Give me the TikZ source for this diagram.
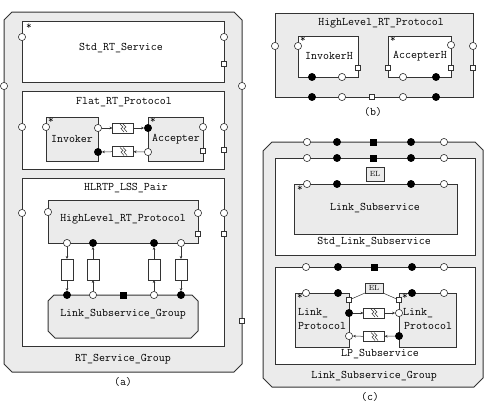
\documentclass[tikz,border=0pt]{standalone}
\usetikzlibrary{arrows.meta}
\definecolor{gfill}{HTML}{EBEBEB}
\definecolor{lc}{HTML}{333333}
\newcommand\ttl{\fontsize{11.6}{12.5}\selectfont\ttfamily}
\newcommand\ttstar{\fontsize{11}{11}\selectfont\ttfamily}
\newcommand\elfont{\fontsize{7.5}{8}\selectfont}
\begin{document}
\begin{tikzpicture}[x=1pt,y=-1pt,
  box/.style={draw=lc, line width=1pt, rectangle, inner sep=0pt, outer sep=0pt},
  wbox/.style={box, fill=white},
  gbox/.style={box, fill=gfill},
  octo/.style={draw=lc, line width=1pt, fill=gfill},
  po/.style={circle, draw=lc, fill=white, line width=0.6pt, minimum size=7.2pt, inner sep=0pt},
  pf/.style={circle, draw=black, fill=black, line width=0.6pt, minimum size=7.2pt, inner sep=0pt},
  ps/.style={rectangle, draw=lc, fill=white, line width=0.6pt, minimum size=5pt, inner sep=0pt},
  psf/.style={rectangle, draw=black, fill=black, minimum size=5.4pt, inner sep=0pt},
  lbl/.style={font=\ttl, inner sep=0pt},
  st/.style={font=\ttstar, inner sep=0pt},
  chan/.style={wbox, line width=0.6pt, minimum width=21pt, minimum height=10pt},
  vchan/.style={wbox, line width=0.6pt, minimum width=12pt, minimum height=21pt},
  arr/.style={-{Stealth[length=3pt,width=2.6pt]}, line width=0.5pt, draw=lc},
  zz/.style={line width=0.5pt, draw=lc},
  ell/.style={font=\elfont, inner sep=0pt}
]
\useasboundingbox (0,0) rectangle (486,405);
\newcommand\zig[1]{%
  \draw[zz] ([shift={(-3,-4)}]#1.center) -- ++(3,3) -- ++(-2,1.5) -- ++(3,3.5);
  \draw[zz] ([shift={(0,-4)}]#1.center) -- ++(3,3) -- ++(-2,1.5) -- ++(3,3.5);}

% ================= (a) =================
\draw[octo] (4,20) -- (12,12) -- (234,12) -- (242,20) -- (242,364) -- (234,372) -- (12,372) -- (4,364) -- cycle;
\node[po] (aol) at (4,86) {};
\node[po] (aor) at (242,86) {};
\node[ps] (aos) at (242,321) {};

% Std_RT_Service
\node[wbox, minimum width=202pt, minimum height=61pt] (stdrt) at (123,51.5) {};
\node[lbl] (stdrtl) at (121,48) {Std\_RT\_Service};
\node[st] (s1) at (29,27) {*};
\node[po] (stdl) at (22,37) {};
\node[po] (stdr) at (224,37) {};
\node[ps] (stds) at (224,64) {};

% Flat_RT_Protocol
\node[wbox, minimum width=202pt, minimum height=78pt] (flat) at (123,130) {};
\node[lbl] (flatl) at (124,102) {Flat\_RT\_Protocol};
\node[po] (flpl) at (22,127) {};
\node[po] (flpr) at (224,127) {};
\node[ps] (flps) at (224,150) {};

\node[gbox, minimum width=52pt, minimum height=44pt] (inv) at (72,139) {};
\node[lbl] (invl) at (72,139) {Invoker};
\node[st] (s2) at (51,121) {*};
\node[po] (invpl) at (46,127) {};
\node[po] (invpo) at (98,128) {};
\node[pf] (invpf) at (98,152) {};

\node[gbox, minimum width=55pt, minimum height=44pt] (acc) at (175.5,139) {};
\node[lbl] (accl) at (176,139) {Accepter};
\node[st] (s3) at (153,121) {*};
\node[pf] (accpf) at (148,128) {};
\node[po] (accpo) at (148,152) {};
\node[po] (accpr) at (203,127) {};
\node[ps] (accps) at (203,151) {};

\node[chan] (ch1) at (123,128) {};
\node[chan] (ch2) at (123,151.5) {};
\zig{ch1}\zig{ch2}
\draw[arr] (invpo) -- (ch1);
\draw[arr] (ch1) -- (accpf);
\draw[arr] (accpo) -- (ch2);
\draw[arr] (ch2) -- (invpf);

% HLRTP_LSS_Pair
\node[wbox, minimum width=202pt, minimum height=168pt] (pair) at (123,262) {};
\node[lbl] (pairl) at (126,188) {HLRTP\_LSS\_Pair};
\node[po] (pairpl) at (22,213) {};
\node[po] (pairpr) at (224,213) {};
\node[ps] (pairps) at (224,234) {};

\node[gbox, minimum width=150pt, minimum height=43pt] (hl) at (123,221.5) {};
\node[lbl] (hll) at (123,219) {HighLevel\_RT\_Protocol};
\node[po] (hlpl) at (48,212) {};
\node[po] (hlpr) at (198,213) {};
\node[ps] (hlps) at (198,234) {};
\node[po] (hb1) at (67,243) {};
\node[pf] (hb2) at (93,243) {};
\node[pf] (hb3) at (154,243) {};
\node[po] (hb4) at (181,243) {};

\draw[octo] (48,301) -- (54,295) -- (192,295) -- (198,301) -- (198,331) -- (191,338) -- (55,338) -- (48,331) -- cycle;
\node[lbl] (lsgl) at (123,314) {Link\_Subservice\_Group};
\node[pf] (lt1) at (67,295) {};
\node[po] (lt2) at (93,295) {};
\node[psf] (lt3) at (123,295) {};
\node[po] (lt4) at (154,295) {};
\node[pf] (lt5) at (181,295) {};

\node[vchan] (v1) at (67,269.5) {};
\node[vchan] (v2) at (93,269.5) {};
\node[vchan] (v3) at (154,269.5) {};
\node[vchan] (v4) at (181,269.5) {};
\draw[arr] (hb1) -- (v1);
\draw[arr] (v1) -- (lt1);
\draw[arr] (lt2) -- (v2);
\draw[arr] (v2) -- (hb2);
\draw[arr] (lt4) -- (v3);
\draw[arr] (v3) -- (hb3);
\draw[arr] (hb4) -- (v4);
\draw[arr] (v4) -- (lt5);

\node[lbl] (rtsgl) at (123,359) {RT\_Service\_Group};
\node[lbl] (capa) at (123,382) {(a)};

% ================= (b) =================
\node[gbox, minimum width=198pt, minimum height=84pt] (hlb) at (374,55) {};
\node[lbl] (hlbl) at (381,23) {HighLevel\_RT\_Protocol};
\node[po] (hlbpl) at (275,46) {};
\node[po] (hlbpr) at (473,46) {};
\node[ps] (hlbps) at (473,68) {};
\node[pf] (hbb1) at (312,97) {};
\node[po] (hbb2) at (342,97) {};
\node[ps] (hbb3) at (372,97) {};
\node[po] (hbb4) at (403,97) {};
\node[pf] (hbb5) at (436,97) {};

\node[wbox, minimum width=60pt, minimum height=41pt] (invh) at (328,56.5) {};
\node[lbl] (invhl) at (329,56) {InvokerH};
\node[st] (s4) at (303,40) {*};
\node[po] (invhpl) at (298,46) {};
\node[ps] (invhps) at (358,68) {};
\node[pf] (invhb1) at (312,77) {};
\node[po] (invhb2) at (342,77) {};

\node[wbox, minimum width=63pt, minimum height=41pt] (acch) at (419.5,56.5) {};
\node[lbl] (acchl) at (420,56) {AccepterH};
\node[st] (s5) at (393,40) {*};
\node[po] (acchpr) at (451,45) {};
\node[ps] (acchps) at (451,68) {};
\node[ps] (acchpl) at (388,68) {};
\node[po] (acchb1) at (403,77) {};
\node[pf] (acchb2) at (436,77) {};

\node[lbl] (capb) at (373,112) {(b)};

% ================= (c) =================
\draw[octo] (263,151) -- (272,142) -- (475,142) -- (483,150) -- (483,378) -- (474,387) -- (272,387) -- (263,378) -- cycle;
\node[po] (ct1) at (307,142) {};
\node[pf] (ct2) at (337,142) {};
\node[psf] (ct3) at (373,142) {};
\node[pf] (ct4) at (411,142) {};
\node[po] (ct5) at (444,142) {};

\node[wbox, minimum width=200pt, minimum height=97pt] (sls) at (375,206.5) {};
\node[lbl] (slsl) at (374,242) {Std\_Link\_Subservice};
\node[po] (st1) at (307,158) {};
\node[pf] (st2) at (337,158) {};
\node[psf] (st3) at (373,158) {};
\node[pf] (st4) at (411,158) {};
\node[po] (st5) at (444,158) {};

\node[gbox, minimum width=18pt, minimum height=14pt] (el1) at (375,174) {};
\node[ell] (el1l) at (375,174) {EL};

\node[gbox, minimum width=163pt, minimum height=50pt] (ls) at (375.5,209) {};
\node[lbl] (lsl) at (375,208) {Link\_Subservice};
\node[st] (s6) at (300,189) {*};
\node[po] (ls1) at (307,184) {};
\node[pf] (ls2) at (337,184) {};
\node[pf] (ls3) at (411,184) {};
\node[po] (ls4) at (444,184) {};

\node[wbox, minimum width=200pt, minimum height=97pt] (lps) at (375,315.5) {};
\node[lbl] (lpsl) at (380,354) {LP\_Subservice};
\node[po] (lt1c) at (306,267) {};
\node[pf] (lt2c) at (338,267) {};
\node[psf] (lt3c) at (374,267) {};
\node[pf] (lt4c) at (412,267) {};
\node[po] (lt5c) at (444,267) {};

\node[gbox, minimum width=54pt, minimum height=54pt] (lpl) at (322,320) {};
\node[lbl, anchor=west] (lpll1) at (298,313) {Link\_};
\node[lbl, anchor=west] (lpll2) at (298,325.5) {Protocol};
\node[st] (s7) at (300,297) {*};
\node[po] (lplt1) at (306,293) {};
\node[pf] (lplt2) at (338,293) {};
\node[ps] (lpls) at (349,300) {};
\node[pf] (lplf) at (349,313) {};
\node[po] (lplo) at (349,336) {};

\node[gbox, minimum width=57pt, minimum height=54pt] (lpr) at (427.5,320) {};
\node[lbl, anchor=west] (lprl1) at (403,313) {Link\_};
\node[lbl, anchor=west] (lprl2) at (404,325.5) {Protocol};
\node[st] (s8) at (405,297) {*};
\node[pf] (lprt1) at (412,293) {};
\node[po] (lprt2) at (444,293) {};
\node[ps] (lprs) at (399,300) {};
\node[po] (lpro) at (399,313) {};
\node[pf] (lprf) at (399,336) {};

\node[gbox, minimum width=18pt, minimum height=10pt] (el2) at (374,288) {};
\node[ell] (el2l) at (374,288) {EL};
\draw[zz] (el2.south west) -- (lpls);
\draw[zz] (el2.south east) -- (lprs);

\node[chan] (ch3) at (374,313) {};
\node[chan] (ch4) at (374,336.5) {};
\zig{ch3}\zig{ch4}
\draw[arr] (lplf) -- (ch3);
\draw[arr] (ch3) -- (lpro);
\draw[arr] (lprf) -- (ch4);
\draw[arr] (ch4) -- (lplo);

\node[lbl] (lsgcl) at (374,376) {Link\_Subservice\_Group};
\node[lbl] (capc) at (370,397) {(c)};
\end{tikzpicture}
\end{document}
